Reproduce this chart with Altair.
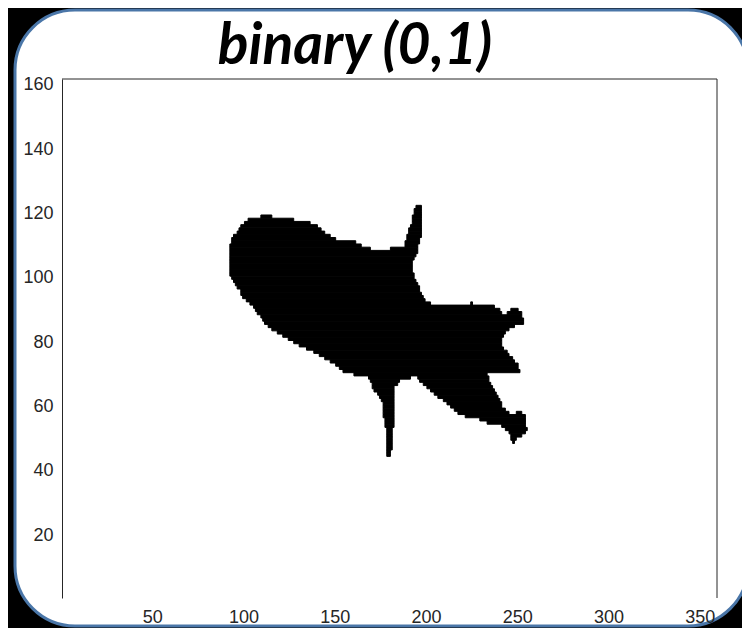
import altair as alt
import pandas as pd

# Binary image runs: image row (y), first and last black column (x) of each run
run_row = [
    122, 121, 120,
    119, 119, 118, 118, 117, 117, 116, 116, 115, 115, 114, 114, 113, 113,
    112, 112, 111, 111, 110, 110, 109, 109,
    108, 107, 106, 105, 104, 103, 102, 101, 100, 99, 98, 97, 96, 95, 94, 93, 92, 92,
    91, 90, 90, 89, 89, 88, 87, 86, 85, 84, 83, 82, 81, 80, 79, 78, 77, 76, 75, 74,
    73, 72, 71, 70,
    69, 69, 68, 68, 67, 67, 66, 66, 65, 65, 64, 64, 63, 63, 62, 62, 61, 61,
    60, 60, 59, 59, 58, 58, 58, 57, 57, 56, 56, 55, 55, 54, 54, 53, 53,
    52, 52, 51, 51, 50, 50, 49, 49, 48, 47, 46, 45,
]
run_start = [
    195, 194, 194,
    110, 193, 103, 193, 101, 193, 99, 192, 98, 191, 97, 191, 95, 190,
    94, 190, 94, 189, 93, 189, 93, 181,
    93, 93, 93, 93, 93, 93, 93, 93, 94, 95, 96, 97, 99, 99, 100, 102, 104, 225,
    106, 107, 247, 108, 245, 110, 111, 112, 114, 116, 119, 122, 125, 128, 131, 135, 139, 142, 145, 148,
    151, 153, 155, 161,
    169, 196, 170, 197, 171, 199, 171, 201, 172, 203, 174, 205, 175, 207, 176, 210, 177, 212,
    177, 214, 177, 216, 177, 218, 250, 177, 222, 178, 230, 178, 234, 178, 242, 179, 244,
    179, 246, 179, 247, 179, 247, 179, 248, 179, 179, 179, 179,
]
run_end = [
    197, 197, 197,
    115, 197, 127, 197, 136, 197, 140, 197, 142, 197, 144, 197, 147, 197,
    150, 196, 161, 196, 164, 195, 169, 195,
    195, 194, 193, 192, 192, 192, 192, 193, 193, 194, 195, 196, 196, 197, 198, 199, 202, 225,
    237, 240, 250, 241, 252, 252, 253, 253, 248, 245, 243, 242, 241, 241, 241, 242, 244, 245, 247, 248,
    250, 250, 251, 233,
    191, 234, 185, 234, 184, 235, 182, 236, 182, 237, 182, 238, 182, 239, 182, 240, 182, 241,
    182, 241, 182, 243, 182, 245, 252, 182, 254, 182, 254, 182, 254, 182, 254, 181, 255,
    181, 254, 181, 252, 181, 249, 181, 248, 181, 181, 180, 180,
]

x_ticks = [50, 100, 150, 200, 250, 300, 350]
y_ticks = [20, 40, 60, 80, 100, 120, 140, 160]
x_domain = [0.5, 359.5]
y_domain = [0.5, 161.75]
title_text = "binary (0,1)"

W, H = 655, 519
AXIS_COLOR = "#262626"

runs = pd.DataFrame({"row": run_row, "start": run_start, "end": run_end})

# decorative rounded slide frame
frame = alt.Chart(alt.Data(values=[{}])).mark_rect(
    fill="white", stroke="#4A76A8", strokeWidth=3, cornerRadius=60
).encode(
    x=alt.value(-47), x2=alt.value(686), y=alt.value(-69), y2=alt.value(547)
)

blob = alt.Chart(runs).transform_calculate(
    x0="datum.start - 0.5", x1="datum.end + 0.5",
    y0="datum.row - 0.5", y1="datum.row + 0.5",
).mark_rect(color="black", stroke="black", strokeWidth=1).encode(
    x=alt.X("x0:Q", scale=alt.Scale(domain=x_domain, nice=False, zero=False),
            axis=alt.Axis(values=x_ticks, grid=False, ticks=False, domain=False,
                          labelFont="Liberation Sans", labelFontSize=18,
                          labelColor=AXIS_COLOR, labelPadding=10, labelFlush=False,
                          title=None, zindex=2)),
    x2="x1:Q",
    y=alt.Y("y0:Q", scale=alt.Scale(domain=y_domain, nice=False, zero=False),
            axis=alt.Axis(values=y_ticks, grid=False, ticks=False, domain=True,
                          domainColor=AXIS_COLOR, domainWidth=1,
                          labelFont="Liberation Sans", labelFontSize=18,
                          labelColor=AXIS_COLOR, labelPadding=9, labelFlush=False,
                          title=None, zindex=2)),
    y2="y1:Q",
)

top_line = alt.Chart(alt.Data(values=[{}])).mark_rule(
    color=AXIS_COLOR, strokeWidth=1
).encode(x=alt.value(0), x2=alt.value(W), y=alt.value(0))

right_line = alt.Chart(alt.Data(values=[{}])).mark_rule(
    color=AXIS_COLOR, strokeWidth=1
).encode(x=alt.value(W), y=alt.value(0), y2=alt.value(H))

title = alt.Chart(alt.Data(values=[{"t": title_text}])).mark_text(
    font="Lato", fontSize=57, fontStyle="italic", fontWeight="bold",
    color="black", align="center", baseline="alphabetic",
).encode(text="t:N", x=alt.value(293), y=alt.value(-15))

chart = alt.layer(frame, blob, top_line, right_line, title).properties(
    width=W, height=H,
    autosize=alt.AutoSizeParams(type="none"),
    padding={"left": 54, "top": 71, "right": 25, "bottom": 30},
).configure(background="black").configure_view(stroke="transparent")

chart.save("out.html", embed_options={"renderer": "svg", "actions": False})
